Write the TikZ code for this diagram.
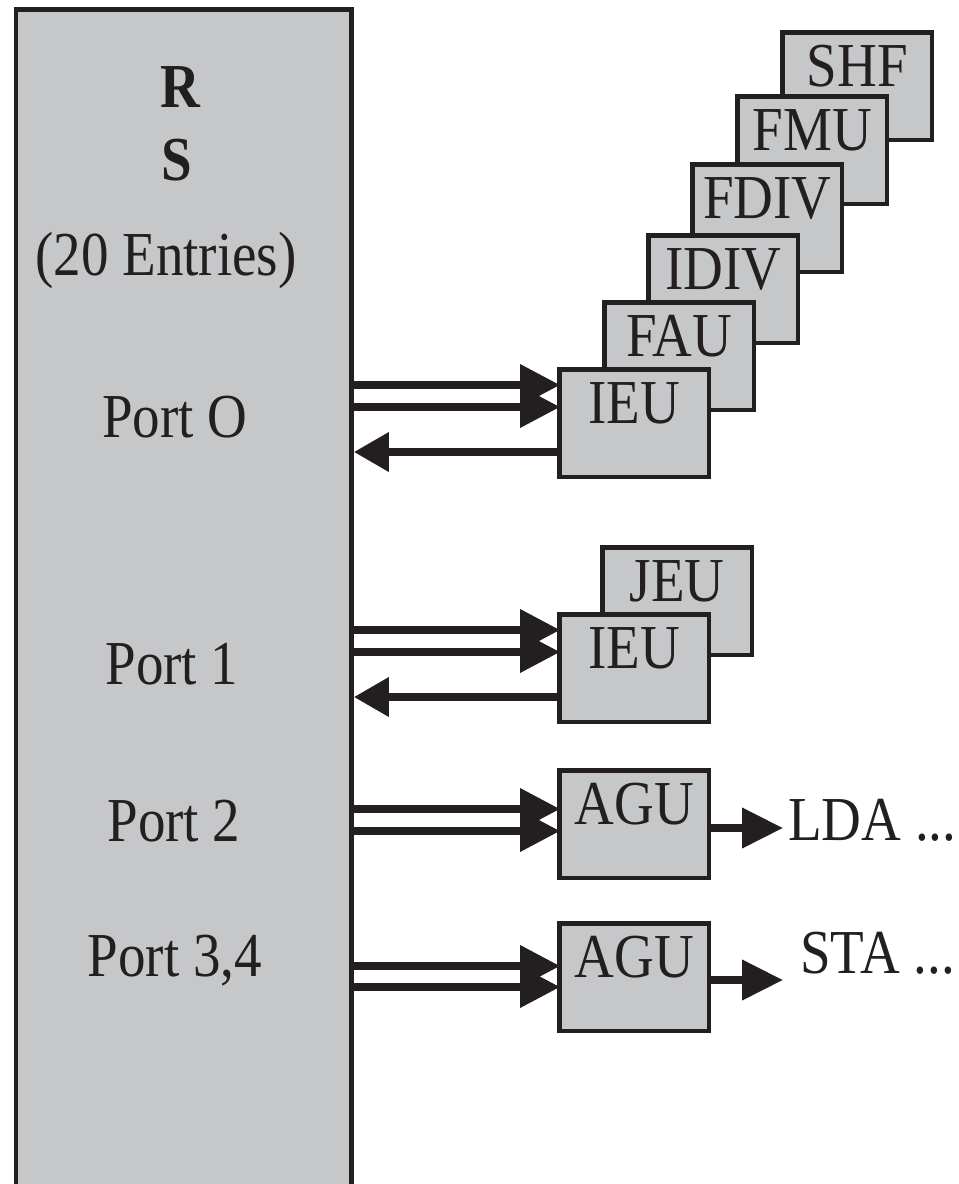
\documentclass[tikz,border=0pt]{standalone}
\usepackage{fontspec}
\setmainfont{Liberation Serif}[FakeStretch=0.88]
\usetikzlibrary{arrows.meta}
\definecolor{boxgray}{RGB}{198,199,201}
\definecolor{ink}{RGB}{35,31,32}
\begin{document}
\begin{tikzpicture}[x=0.02cm,y=-0.02cm,
  unitbox/.style={draw=ink, fill=boxgray, line width=0.09cm, minimum width=3.0cm,
    minimum height=2.16cm, anchor=north west, inner sep=0pt, text=ink,
    text height=0.8cm, text depth=0.8cm, font=\fontsize{35.6}{40}\selectfont},
  rsbox/.style={draw=ink, fill=boxgray, line width=0.1cm, minimum width=6.71cm,
    minimum height=24cm, anchor=north west, inner sep=0pt},
  lbl/.style={text=ink, inner sep=0pt, anchor=base, font=\fontsize{35.6}{40}\selectfont},
  fwd/.style={draw=ink, line width=0.145cm, -{Triangle[length=0.8cm,width=0.8cm]}, shorten >=-0.06cm},
  bwd/.style={draw=ink, line width=0.145cm, -{Triangle[length=0.7cm,width=0.76cm]}},
  outarr/.style={draw=ink, line width=0.145cm, -{Triangle[length=0.82cm,width=0.78cm]}}
]
\useasboundingbox (0,0) rectangle (958,1184);
\clip (0,0) rectangle (958,1184);
\fill[white] (0,0) rectangle (958,1184);

% reservation station
\node[rsbox] (rs) at (13.5,6.5) {};
\node[lbl, font=\fontsize{35.6}{40}\selectfont\bfseries] (rsR) at (180,107) {R};
\node[lbl, font=\fontsize{35.6}{40}\selectfont\bfseries] (rsS) at (177,180) {S};
\node[lbl] (entries) at (166,275) {(20 Entries)};
\node[lbl] (p0) at (175,437) {Port O};
\node[lbl] (p1) at (172,684) {Port 1};
\node[lbl] (p2) at (174,841) {Port 2};
\node[lbl] (p34) at (175,976) {Port 3,4};

% port 0 stack
\node[unitbox] (shf) at (780,30) {SHF};
\node[unitbox] (fmu) at (735,94) {FMU};
\node[unitbox] (fdiv) at (690,162) {FDIV};
\node[unitbox] (idiv) at (646,233) {IDIV};
\node[unitbox] (fau) at (602,300) {FAU};
\node[unitbox] (ieuA) at (557,367) {IEU};

% port 1 stack
\node[unitbox] (jeu) at (600,545) {JEU};
\node[unitbox] (ieuB) at (557,612) {IEU};

% port 2, 3/4
\node[unitbox] (aguA) at (557,768) {AGU};
\node[unitbox] (aguB) at (557,921) {AGU};

\node[lbl, anchor=base west] (lda) at (788,840) {LDA ...};
\node[lbl, anchor=base west] (sta) at (800,973) {STA ...};
\coordinate (ldatip) at (783,828);
\coordinate (statip) at (783,980);

% connectors
\draw[fwd] (rs.east |- 0,385) -- (ieuA.west |- 0,385);
\draw[fwd] (rs.east |- 0,407) -- (ieuA.west |- 0,407);
\draw[bwd] (ieuA.west |- 0,452) -- (rs.east |- 0,452);

\draw[fwd] (rs.east |- 0,630) -- (ieuB.west |- 0,630);
\draw[fwd] (rs.east |- 0,652) -- (ieuB.west |- 0,652);
\draw[bwd] (ieuB.west |- 0,697) -- (rs.east |- 0,697);

\draw[fwd] (rs.east |- 0,809) -- (aguA.west |- 0,809);
\draw[fwd] (rs.east |- 0,831) -- (aguA.west |- 0,831);
\draw[fwd] (rs.east |- 0,966) -- (aguB.west |- 0,966);
\draw[fwd] (rs.east |- 0,987) -- (aguB.west |- 0,987);

\draw[outarr] (aguA.east |- ldatip) -- (ldatip);
\draw[outarr] (aguB.east |- statip) -- (statip);
\end{tikzpicture}
\end{document}
